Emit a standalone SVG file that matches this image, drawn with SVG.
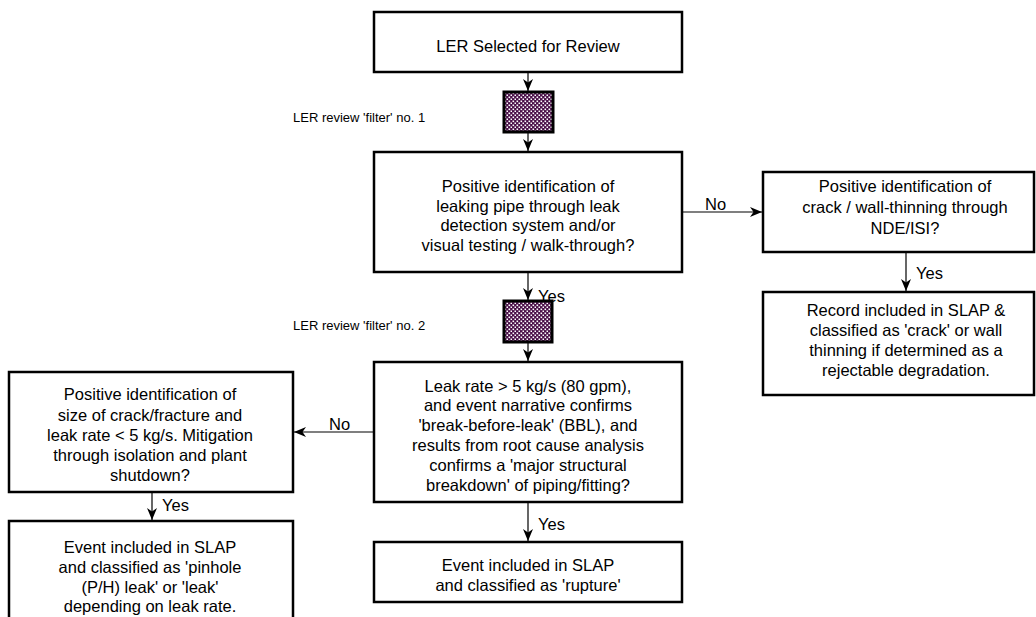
<svg xmlns="http://www.w3.org/2000/svg" width="1036" height="617" viewBox="0 0 1036 617">
  <style>
    .box { fill: #ffffff; stroke: #000000; stroke-width: 2.5; }
    .filter { fill: url(#check); stroke: #000000; stroke-width: 3; }
    .t { font-family: "Liberation Sans", Arial, sans-serif; font-size: 16.5px; fill: #000000; text-anchor: middle; }
    .lbl { font-family: "Liberation Sans", Arial, sans-serif; font-size: 16.5px; fill: #000000; }
    .note { font-family: "Liberation Sans", Arial, sans-serif; font-size: 13px; fill: #000000; }
    .conn { fill: none; stroke: #000000; stroke-width: 1.2; marker-end: url(#arrow); }
  </style>
  <defs>
    <pattern id="check" width="4" height="4" patternUnits="userSpaceOnUse">
      <rect width="4" height="4" fill="#4a0f48"/>
      <rect x="0.5" y="0.5" width="1.6" height="1.6" fill="#ffffff"/>
      <rect x="2.5" y="2.5" width="1.6" height="1.6" fill="#ffffff"/>
    </pattern>
    <marker id="arrow" viewBox="0 0 12 10" refX="12" refY="5" markerWidth="12" markerHeight="10" markerUnits="userSpaceOnUse" orient="auto">
      <path d="M0,0 L12,5 L0,10 L3.5,5 Z" fill="#000000"/>
    </marker>
  </defs>

  <rect width="1036" height="617" fill="#ffffff"/>

  <!-- connectors -->
  <g id="connectors">
    <line class="conn" x1="528" y1="73" x2="528" y2="91"/>
    <line class="conn" x1="528" y1="133" x2="528" y2="151"/>
    <line class="conn" x1="528" y1="273" x2="528" y2="300"/>
    <line class="conn" x1="528" y1="343" x2="528" y2="361"/>
    <line class="conn" x1="528" y1="503" x2="528" y2="541"/>
    <line class="conn" x1="683" y1="212" x2="762" y2="212"/>
    <line class="conn" x1="906" y1="253" x2="906" y2="291"/>
    <line class="conn" x1="373" y1="432" x2="294" y2="432"/>
    <line class="conn" x1="152" y1="493" x2="152" y2="520"/>
    <text class="lbl" x="538" y="302">Yes</text>
    <text class="lbl" x="538" y="530">Yes</text>
    <text class="lbl" x="705" y="210">No</text>
    <text class="lbl" x="916" y="279">Yes</text>
    <text class="lbl" x="329" y="430">No</text>
    <text class="lbl" x="162" y="511">Yes</text>
  </g>

  <g id="start">
    <rect class="box" x="374" y="12" width="308" height="60"/>
    <text class="t" x="528" y="52">LER Selected for Review</text>
  </g>

  <g id="filter1">
    <rect class="filter" x="504" y="92" width="49" height="40"/>
    <text class="note" x="293" y="122">LER review 'filter' no. 1</text>
  </g>

  <g id="leak-detection">
    <rect class="box" x="374" y="152" width="308" height="120"/>
    <text class="t" x="528" y="192">Positive identification of</text>
    <text class="t" x="528" y="212">leaking pipe through leak</text>
    <text class="t" x="528" y="231">detection system and/or</text>
    <text class="t" x="528" y="251">visual testing / walk-through?</text>
  </g>

  <g id="nde-isi">
    <rect class="box" x="763" y="172" width="271" height="80"/>
    <text class="t" x="905" y="192">Positive identification of</text>
    <text class="t" x="905" y="213">crack / wall-thinning through</text>
    <text class="t" x="905" y="234">NDE/ISI?</text>
  </g>

  <g id="crack-record">
    <rect class="box" x="763" y="292" width="271" height="103"/>
    <text class="t" x="906" y="316">Record included in SLAP &amp;</text>
    <text class="t" x="906" y="336">classified as 'crack' or wall</text>
    <text class="t" x="906" y="356">thinning if determined as a</text>
    <text class="t" x="906" y="376">rejectable degradation.</text>
  </g>

  <g id="filter2">
    <rect class="filter" x="504" y="301" width="48" height="41"/>
    <text class="note" x="293" y="330">LER review 'filter' no. 2</text>
  </g>

  <g id="rupture-criteria">
    <rect class="box" x="374" y="362" width="308" height="140"/>
    <text class="t" x="528" y="392">Leak rate &gt; 5 kg/s (80 gpm),</text>
    <text class="t" x="528" y="411">and event narrative confirms</text>
    <text class="t" x="528" y="431">'break-before-leak' (BBL), and</text>
    <text class="t" x="528" y="451">results from root cause analysis</text>
    <text class="t" x="528" y="471">confirms a 'major structural</text>
    <text class="t" x="528" y="491">breakdown' of piping/fitting?</text>
  </g>

  <g id="rupture">
    <rect class="box" x="374" y="542" width="308" height="60"/>
    <text class="t" x="528" y="571">Event included in SLAP</text>
    <text class="t" x="528" y="591">and classified as 'rupture'</text>
  </g>

  <g id="leak-criteria">
    <rect class="box" x="9" y="372" width="284" height="120"/>
    <text class="t" x="150" y="400">Positive identification of</text>
    <text class="t" x="150" y="421">size of crack/fracture and</text>
    <text class="t" x="150" y="441">leak rate &lt; 5 kg/s. Mitigation</text>
    <text class="t" x="150" y="461">through isolation and plant</text>
    <text class="t" x="150" y="481">shutdown?</text>
  </g>

  <g id="leak">
    <rect class="box" x="9" y="521" width="284" height="110"/>
    <text class="t" x="150" y="553">Event included in SLAP</text>
    <text class="t" x="150" y="573">and classified as 'pinhole</text>
    <text class="t" x="150" y="593">(P/H) leak' or 'leak'</text>
    <text class="t" x="150" y="612">depending on leak rate.</text>
  </g>
</svg>
